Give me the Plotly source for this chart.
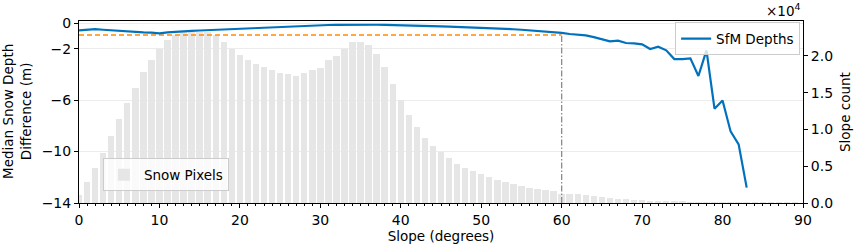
import plotly.graph_objects as go

# ---- data ----
slope_bins = list(range(0, 90))
snow_pixels = [1050, 2860, 4760, 6800, 9075, 11390, 13600, 15600, 17800, 19500,
               20950, 22230, 22900, 23250, 23300, 23300, 23250, 22800, 21900, 20950,
               20190, 19500, 18960, 18500, 18050, 17690, 17510, 17240, 17740, 18150,
               18330, 19410, 19960, 21000, 21840, 21880, 21450, 20230, 18460, 16240,
               14070, 12030, 10340, 8900, 7710, 6900, 6120, 5360, 4760, 4310,
               3900, 3540, 3180, 2860, 2590, 2310, 2090, 1960, 1730, 1590,
               1280, 1280, 1180, 1050, 910, 800, 700, 600, 520, 450,
               380, 320, 270, 230, 190, 160, 130, 110, 90, 70,
               60, 50, 40, 30, 25, 20, 15, 10, 8, 5]

depth_slopes = list(range(0, 84))
sfm_depths = [-0.57, -0.52, -0.47, -0.52, -0.57, -0.62, -0.66, -0.70, -0.72, -0.74,
              -0.80, -0.72, -0.67, -0.64, -0.61, -0.58, -0.55, -0.52, -0.49, -0.45,
              -0.42, -0.39, -0.36, -0.33, -0.30, -0.27, -0.25, -0.22, -0.20, -0.18,
              -0.16, -0.15, -0.14, -0.13, -0.12, -0.12, -0.12, -0.13, -0.14, -0.15,
              -0.17, -0.18, -0.20, -0.22, -0.24, -0.26, -0.28, -0.30, -0.32, -0.34,
              -0.36, -0.38, -0.41, -0.44, -0.48, -0.52, -0.56, -0.61, -0.66, -0.71,
              -0.76, -0.85, -0.90, -0.96, -1.09, -1.24, -1.42, -1.37, -1.55, -1.58,
              -1.66, -2.02, -1.84, -2.12, -2.80, -2.80, -2.75, -4.12, -2.12, -6.66,
              -6.02, -8.43, -9.44, -12.8]

threshold_slope = 60
threshold_depth = -0.93

left_ticks = [0, -2, -6, -10, -14]
left_ticktext = ["0", "\u22122", "\u22126", "\u221210", "\u221214"]
right_ticks = [0, 5000, 10000, 15000, 20000]
right_ticktext = ["0.0", "0.5", "1.0", "1.5", "2.0"]
x_ticks = list(range(0, 91, 10))

FONT = "DejaVu Sans"
FS = 14
TS = 13.5

fig = go.Figure()

fig.add_trace(go.Bar(
    x=slope_bins, y=snow_pixels, width=0.8, name="Snow Pixels",
    marker=dict(color="#e6e6e6", line=dict(width=0)),
    yaxis="y", legend="legend", showlegend=True,
))

fig.add_trace(go.Scatter(
    x=[0, threshold_slope], y=[threshold_depth, threshold_depth], mode="lines",
    line=dict(color="#ff8c00", width=1.5, dash="5px,3px"),
    yaxis="y2", showlegend=False, hoverinfo="skip",
))
fig.add_trace(go.Scatter(
    x=[threshold_slope, threshold_slope], y=[-14, threshold_depth], mode="lines",
    line=dict(color="#8c8c8c", width=1.3, dash="6px,2px,1.5px,2px"),
    yaxis="y2", showlegend=False, hoverinfo="skip",
))
fig.add_trace(go.Scatter(
    x=depth_slopes, y=sfm_depths, mode="lines", name="SfM Depths",
    line=dict(color="#0072BD", width=2.2),
    yaxis="y2", legend="legend2",
))

axis_common = dict(
    showline=True, linecolor="black", linewidth=1,
    ticks="outside", ticklen=4, tickcolor="black",
    tickfont=dict(family=FONT, size=FS, color="black"),
    zeroline=False, automargin=False,
)

fig.update_layout(
    width=858, height=249,
    margin=dict(l=79, r=55, t=21, b=46, autoexpand=False),
    plot_bgcolor="white", paper_bgcolor="white",
    font=dict(family=FONT, size=FS, color="black"),
    bargap=0,
    xaxis=dict(
        range=[0, 90], tickvals=x_ticks, mirror=True, showgrid=False,
        minor=dict(dtick=1, ticks="outside", ticklen=2, tickcolor="black"),
        title=dict(text="Slope (degrees)", font=dict(family=FONT, size=TS), standoff=3),
        **axis_common,
    ),
    yaxis=dict(
        side="right", range=[0, 24750], tickvals=right_ticks, ticktext=right_ticktext,
        showgrid=False,
        **axis_common,
    ),
    yaxis2=dict(
        overlaying="y", side="left", range=[-14, 0.16], tickvals=left_ticks,
        ticktext=left_ticktext,
        showgrid=True, gridcolor="#ececec", gridwidth=1,
        **axis_common,
    ),
    legend=dict(
        x=0.033, y=0.064, xanchor="left", yanchor="bottom",
        bgcolor="rgba(255,255,255,0.8)", bordercolor="#cccccc", borderwidth=1,
        font=dict(family=FONT, size=TS),
    ),
    legend2=dict(
        x=0.996, y=0.993, xanchor="right", yanchor="top",
        bgcolor="rgba(255,255,255,0.8)", bordercolor="#cccccc", borderwidth=1,
        font=dict(family=FONT, size=TS),
    ),
    annotations=[
        dict(text="Median Snow Depth<br>Difference (m)", textangle=-90,
             xref="paper", yref="paper", x=(17 - 79) / 724, y=0.5,
             xanchor="center", yanchor="middle", showarrow=False,
             font=dict(family=FONT, size=TS)),
        dict(text="Slope count", textangle=-90,
             xref="paper", yref="paper", x=(845 - 79) / 724, y=0.5,
             xanchor="center", yanchor="middle", showarrow=False,
             font=dict(family=FONT, size=TS)),
        dict(text="\u00d710<sup>4</sup>",
             xref="paper", yref="paper", x=1.0, y=1.0,
             xanchor="right", yanchor="bottom", showarrow=False,
             font=dict(family=FONT, size=TS)),
    ],
)

fig.write_html(
    "out.html",
    config={"displayModeBar": False},
    post_script="document.body.style.margin='0';document.body.style.overflow='hidden';",
)
